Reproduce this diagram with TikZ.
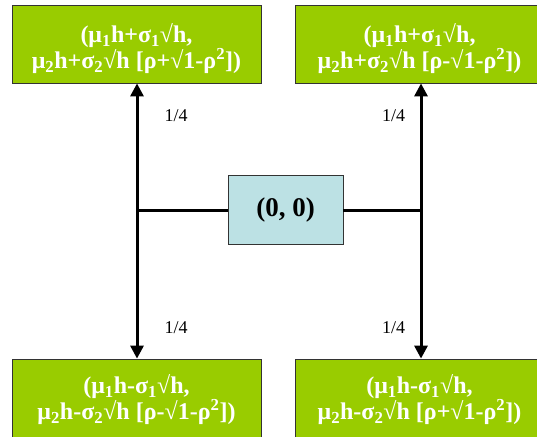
\documentclass[tikz,border=0pt]{standalone}
\usepackage{fontspec}
\setmainfont{Liberation Serif}
\usetikzlibrary{arrows.meta}
\definecolor{boxgreen}{HTML}{99CC00}
\definecolor{boxblue}{HTML}{BCE1E4}
\tikzset{
  greenbox/.style={draw=black!80, line width=0.8pt, fill=boxgreen, minimum width=249pt, minimum height=78pt, inner sep=0pt},
  boxtext/.style={text=white, font=\fontsize{24}{26}\selectfont\bfseries, align=center, inner sep=0pt},
  centerbox/.style={draw=black!80, line width=0.8pt, fill=boxblue, minimum width=115pt, minimum height=69pt, inner sep=0pt, font=\fontsize{27}{30}\selectfont\bfseries},
  prob/.style={font=\fontsize{18}{20}\selectfont, inner sep=0pt},
  conn/.style={line width=3pt, black},
  arr/.style={conn, -{Triangle[length=13pt,width=13pt]}}
}
\begin{document}
\begin{tikzpicture}[x=1pt,y=-1pt]
\useasboundingbox (0,0) rectangle (537,436);
\clip (0,0) rectangle (537,436);
\node[greenbox] (tl) at (136.5,44) {};
\node[greenbox] (tr) at (419.5,44) {};
\node[greenbox] (bl) at (136.5,398) {};
\node[greenbox] (br) at (419.5,398) {};
\node[boxtext] (tlt) at ([yshift=-5pt]tl.center) {(μ\textsubscript{1}h+σ\textsubscript{1}√h,\\μ\textsubscript{2}h+σ\textsubscript{2}√h [ρ+√1-ρ\textsuperscript{2}])};
\node[boxtext] (trt) at ([yshift=-5pt]tr.center) {(μ\textsubscript{1}h+σ\textsubscript{1}√h,\\μ\textsubscript{2}h+σ\textsubscript{2}√h [ρ-√1-ρ\textsuperscript{2}])};
\node[boxtext] (blt) at ([yshift=-2pt]bl.center) {(μ\textsubscript{1}h-σ\textsubscript{1}√h,\\μ\textsubscript{2}h-σ\textsubscript{2}√h [ρ-√1-ρ\textsuperscript{2}])};
\node[boxtext] (brt) at ([yshift=-2pt]br.center) {(μ\textsubscript{1}h-σ\textsubscript{1}√h,\\μ\textsubscript{2}h-σ\textsubscript{2}√h [ρ+√1-ρ\textsuperscript{2}])};
\node[centerbox] (c) at (285.5,210) {(0, 0)};
\coordinate (jl) at (137,210);
\coordinate (jr) at (421,210);
\draw[conn] (c.west) -- (jl);
\draw[conn] (c.east) -- (jr);
\draw[arr] (jl) -- (jl |- tl.south);
\draw[arr] (jl) -- (jl |- bl.north);
\draw[arr] (jr) -- (jr |- tr.south);
\draw[arr] (jr) -- (jr |- br.north);
\node[prob] (p1) at (176,116) {1/4};
\node[prob] (p2) at (393.5,116) {1/4};
\node[prob] (p3) at (176,328) {1/4};
\node[prob] (p4) at (393.5,328) {1/4};
\end{tikzpicture}
\end{document}
